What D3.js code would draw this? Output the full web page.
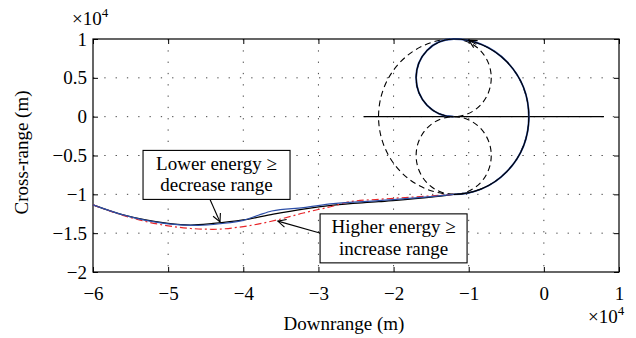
<!DOCTYPE html>
<html>
<head>
<meta charset="utf-8">
<script src="https://cdn.jsdelivr.net/npm/d3@7"></script>
<style>
  body { margin: 0; background: #fff; }
</style>
</head>
<body>
<div id="chart"></div>
<script>
const FONT = "'Liberation Serif', 'Times New Roman', Times, serif";

// all positions in units of 1e4 m
// nominal trajectory (black)
const nominalX = [-6, -5.6, -5.3, -5.0, -4.7, -4.4, -4.0, -3.6, -3.2, -2.8, -2.2, -1.5, -1.2];
const nominalY = [-1.136, -1.265, -1.33, -1.375, -1.395, -1.375, -1.33, -1.255, -1.19, -1.14, -1.095, -1.037, -1.0];
// lower energy (blue)
const lowX = [-6, -5.6, -5.0, -4.6, -4.3, -4.0, -3.8, -3.62, -3.2, -2.8, -2.2, -1.5, -1.2];
const lowY = [-1.136, -1.265, -1.38, -1.4, -1.378, -1.335, -1.27, -1.215, -1.17, -1.12, -1.08, -1.03, -1.0];
// higher energy (red)
const highX = [-6, -5.6, -5.3, -5.0, -4.7, -4.4, -4.0, -3.55, -3.2, -2.8, -2.58, -2.18, -1.5, -1.2];
const highY = [-1.136, -1.27, -1.35, -1.405, -1.44, -1.45, -1.415, -1.33, -1.24, -1.15, -1.094, -1.063, -1.02, -1.0];

// heading alignment circles (dashed)
const circleCx = [-1.2, -1.2, -1.2];
const circleCy = [0, 0.5, -0.5];
const circleR = [1, 0.5, 0.5];

// final turn: big circle bottom -> right -> top, then small circle top -> left -> bottom
const turnX = [-1.2, -0.2, -1.2, -1.7, -1.2];
const turnY = [-1, 0, 1, 0.5, 0];
const turnR = [0, 1, 1, 0.5, 0.5];

// runway centre line
const runwayX = [-2.4, 0.8];
const runwayY = [0, 0];

const xTicks = [-6, -5, -4, -3, -2, -1, 0, 1];
const xTickLabels = ['\u22126', '\u22125', '\u22124', '\u22123', '\u22122', '\u22121', '0', '1'];
const yTicks = [-2, -1.5, -1, -0.5, 0, 0.5, 1];
const yTickLabels = ['\u22122', '\u22121.5', '\u22121', '\u22120.5', '0', '0.5', '1'];

const margin = { top: 39, right: 17, bottom: 66, left: 93 };
const width = 636 - margin.left - margin.right;
const height = 338 - margin.top - margin.bottom;

const svg = d3
  .select('#chart')
  .append('svg')
  .attr('width', 636)
  .attr('height', 338);

const g = svg
  .append('g')
  .attr('transform', 'translate(' + margin.left + ',' + margin.top + ')');

const x = d3.scaleLinear().domain([-6, 1]).range([0, width]);
const y = d3.scaleLinear().domain([-2, 1]).range([height, 0]);

// open arrowhead
svg
  .append('defs')
  .append('marker')
  .attr('id', 'arrow')
  .attr('viewBox', '-10 -6 12 12')
  .attr('refX', 0)
  .attr('refY', 0)
  .attr('markerWidth', 12)
  .attr('markerHeight', 12)
  .attr('markerUnits', 'userSpaceOnUse')
  .attr('orient', 'auto')
  .append('path')
  .attr('d', 'M-8,-4L0,0L-8,4')
  .attr('fill', 'none')
  .attr('stroke', '#000')
  .attr('stroke-width', 1.1);

// dotted grid
g.selectAll('.gx')
  .data(xTicks.slice(1, -1))
  .enter()
  .append('line')
  .attr('x1', (d) => x(d))
  .attr('x2', (d) => x(d))
  .attr('y1', 0)
  .attr('y2', height)
  .attr('stroke', '#444')
  .attr('stroke-dasharray', '1.3,10');

g.selectAll('.gy')
  .data(yTicks.slice(1, -1))
  .enter()
  .append('line')
  .attr('x1', 0)
  .attr('x2', width)
  .attr('y1', (d) => y(d))
  .attr('y2', (d) => y(d))
  .attr('stroke', '#444')
  .attr('stroke-dasharray', '1.3,10');

// axes, ticks pointing inward on all four sides
const styleAxis = (sel) => {
  sel.attr('font-family', null).attr('font-size', null);
  sel.select('.domain').remove();
  sel.selectAll('line').attr('stroke', '#000');
  sel.selectAll('text')
    .style('font-family', FONT)
    .style('font-size', '19px')
    .attr('fill', '#000');
};

g.append('g')
  .attr('transform', 'translate(0,' + height + ')')
  .call(d3.axisBottom(x).tickValues(xTicks).tickFormat((d, i) => xTickLabels[i]).tickSize(-5).tickPadding(15))
  .call(styleAxis);
g.append('g')
  .call(d3.axisTop(x).tickValues(xTicks).tickFormat('').tickSize(-5))
  .call(styleAxis);
g.append('g')
  .call(d3.axisLeft(y).tickValues(yTicks).tickFormat((d, i) => yTickLabels[i]).tickSize(-5).tickPadding(6))
  .call(styleAxis);
g.append('g')
  .attr('transform', 'translate(' + width + ',0)')
  .call(d3.axisRight(y).tickValues(yTicks).tickFormat('').tickSize(-5))
  .call(styleAxis);

g.append('rect')
  .attr('width', width)
  .attr('height', height)
  .attr('fill', 'none')
  .attr('stroke', '#000')
  .attr('stroke-width', 1.2);

// dashed circles
g.selectAll('.circ')
  .data(circleCx)
  .enter()
  .append('ellipse')
  .attr('cx', (d) => x(d))
  .attr('cy', (d, i) => y(circleCy[i]))
  .attr('rx', (d, i) => x(circleR[i]) - x(0))
  .attr('ry', (d, i) => y(0) - y(circleR[i]))
  .attr('fill', 'none')
  .attr('stroke', '#000')
  .attr('stroke-width', 1.1)
  .attr('stroke-dasharray', '6,4');

// runway line
g.append('line')
  .attr('x1', x(runwayX[0]))
  .attr('x2', x(runwayX[1]))
  .attr('y1', y(runwayY[0]))
  .attr('y2', y(runwayY[1]))
  .attr('stroke', '#000')
  .attr('stroke-width', 1.2);

// approach curves
const line = d3
  .line()
  .x((d) => x(d[0]))
  .y((d) => y(d[1]))
  .curve(d3.curveMonotoneX);

const series = [
  { xs: nominalX, ys: nominalY, color: '#000', dash: null, w: 1.2 },
  { xs: highX, ys: highY, color: '#e8262a', dash: '7,3,2,3', w: 1.2 },
  { xs: lowX, ys: lowY, color: '#2d4fa8', dash: null, w: 1.2 },
];

series.forEach((s) => {
  g.append('path')
    .datum(s.xs.map((v, i) => [v, s.ys[i]]))
    .attr('d', line)
    .attr('fill', 'none')
    .attr('stroke', s.color)
    .attr('stroke-width', s.w)
    .attr('stroke-dasharray', s.dash);
});

// final turn shared by all runs, built from circle arcs
let turnPath = 'M' + x(turnX[0]) + ',' + y(turnY[0]);
for (let i = 1; i < turnX.length; i++) {
  const rx = x(turnR[i]) - x(0);
  const ry = y(0) - y(turnR[i]);
  turnPath += 'A' + rx + ',' + ry + ' 0 0 0 ' + x(turnX[i]) + ',' + y(turnY[i]);
}
g.append('path')
  .attr('d', turnPath)
  .attr('fill', 'none')
  .attr('stroke', '#2d4fa8')
  .attr('stroke-width', 1.8);
g.append('path')
  .attr('d', turnPath)
  .attr('fill', 'none')
  .attr('stroke', '#000')
  .attr('stroke-width', 1.1);

// small direction arrow at the top of the circles
g.append('line')
  .attr('x1', x(-0.9))
  .attr('y1', y(0.93))
  .attr('x2', x(-1.0))
  .attr('y2', y(0.985))
  .attr('stroke', '#000')
  .attr('stroke-width', 1)
  .attr('marker-end', 'url(#arrow)');

// annotation boxes
const notes = [
  { cx: -4.356, cy: -0.75, lines: ['Lower energy \u2265', 'decrease range'], from: [-4.45, -1.05], to: [-4.31, -1.355] },
  { cx: -2.0, cy: -1.567, lines: ['Higher energy \u2265', 'increase range'], from: [-2.97, -1.50], to: [-3.54, -1.345] },
];
const boxW = 147;
const boxH = 49;

notes.forEach((n) => {
  g.append('line')
    .attr('x1', x(n.from[0]))
    .attr('y1', y(n.from[1]))
    .attr('x2', x(n.to[0]))
    .attr('y2', y(n.to[1]))
    .attr('stroke', '#000')
    .attr('stroke-width', 1.1)
    .attr('marker-end', 'url(#arrow)');
  g.append('rect')
    .attr('x', x(n.cx) - boxW / 2)
    .attr('y', y(n.cy) - boxH / 2)
    .attr('width', boxW)
    .attr('height', boxH)
    .attr('fill', '#fff')
    .attr('stroke', '#000')
    .attr('stroke-width', 1.1);
  const t = g.append('text')
    .attr('text-anchor', 'middle')
    .style('font-family', FONT)
    .style('font-size', '19px');
  n.lines.forEach((s, i) => {
    t.append('tspan')
      .attr('x', x(n.cx))
      .attr('y', y(n.cy) - 5 + i * 21.5)
      .text(s);
  });
});

// axis labels and exponent markers
svg.append('text')
  .attr('x', margin.left + width / 2 - 12)
  .attr('y', 330)
  .attr('text-anchor', 'middle')
  .style('font-family', FONT)
  .style('font-size', '19px')
  .text('Downrange (m)');

svg.append('text')
  .attr('transform', 'translate(28,' + (margin.top + height / 2 - 3) + ') rotate(-90)')
  .attr('text-anchor', 'middle')
  .style('font-family', FONT)
  .style('font-size', '19px')
  .text('Cross-range (m)');

const expo = (px, py) => {
  const t = svg.append('text').attr('x', px).attr('y', py)
    .style('font-family', FONT).style('font-size', '19px');
  t.append('tspan').text('\u00d710');
  t.append('tspan').attr('dy', -8).style('font-size', '13px').text('4');
};
expo(72, 25);
expo(588, 323);
</script>
</body>
</html>
